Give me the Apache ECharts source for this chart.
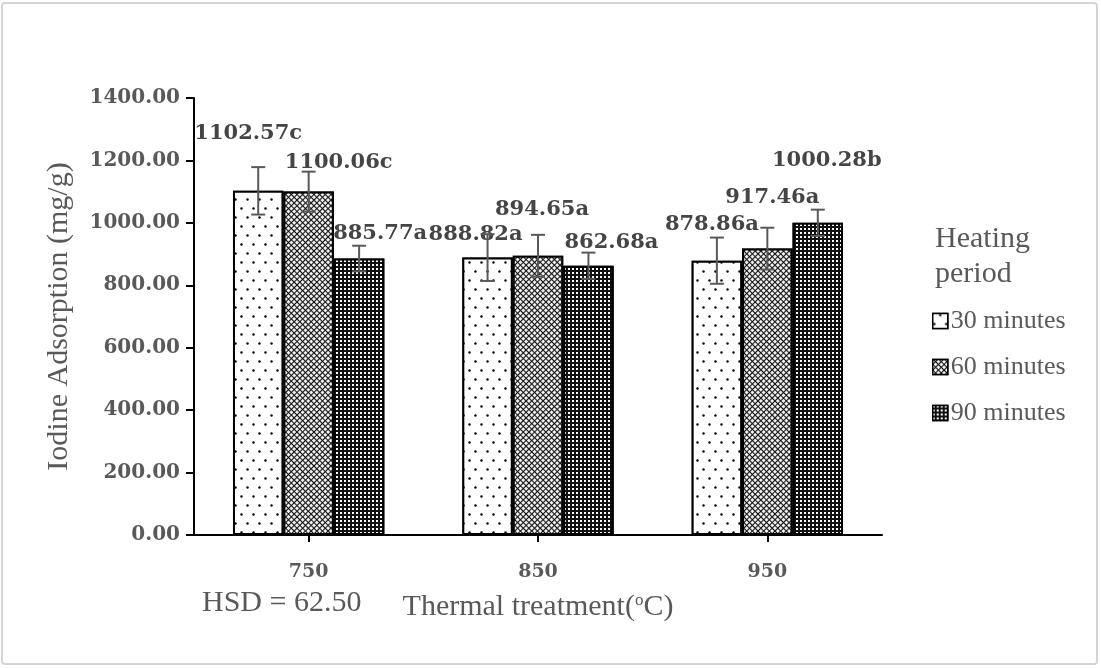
<!DOCTYPE html>
<html>
<head>
<meta charset="utf-8">
<script src="https://cdn.jsdelivr.net/npm/echarts@6/dist/echarts.min.js"></script>
<style>
html,body{margin:0;padding:0;background:#fff;}
#chart{width:1101px;height:668px;}
</style>
</head>
<body>
<div id="chart"></div>
<script>
// ---- data ----
var categories = ['750', '850', '950'];
var seriesNames = ['30 minutes', '60 minutes', '90 minutes'];
var min30 = [1102.57, 888.82, 878.86];
var min60 = [1100.06, 894.65, 917.46];
var min90 = [885.77, 862.68, 1000.28];
var err30 = [76, 75, 74];
var err60 = [64, 67, 67];
var err90 = [41, 42, 42];
var letters30 = ['c', 'a', 'a'];
var letters60 = ['c', 'a', 'a'];
var letters90 = ['a', 'a', 'b'];
var yTicks = [0, 200, 400, 600, 800, 1000, 1200, 1400];

// ---- styling (not data) ----
var labelOffsets = [
  [[-10, -42], [-12, -8], [-5, -21]],
  [[30, -14], [4, -31], [5, -36]],
  [[21, -9], [23, -8], [9, -47]]
];
var CAT_GAP = 0.34;
var textGray = '#595959';
var serif = '"Liberation Serif", "Times New Roman", serif';
var boldSerif = '"DejaVu Serif", serif';

var decals = [
  { symbol: 'circle', symbolSize: 0.8, color: '#000', backgroundColor: '#fff', dashArrayX: [[3, 9], [0, 6, 3, 3]], dashArrayY: [3, 6] },
  { symbol: 'rect', symbolSize: 0.95, color: '#fff', backgroundColor: '#111', dashArrayX: [3, 1], dashArrayY: [3, 1], rotation: Math.PI / 4 },
  { symbol: 'rect', symbolSize: 1, color: '#fff', backgroundColor: '#111', dashArrayX: [2, 2], dashArrayY: [2, 2] }
];
var fills = ['#ffffff', '#777777', '#111111'];

var values = [min30, min60, min90];
var errs = [err30, err60, err90];
var letters = [letters30, letters60, letters90];

var chart = echarts.init(document.getElementById('chart'), null, { renderer: 'canvas' });

var series = [];
values.forEach(function (vals, s) {
  series.push({
    name: seriesNames[s],
    type: 'bar',
    barGap: '0%',
    barCategoryGap: (CAT_GAP * 100) + '%',
    itemStyle: { color: fills[s], borderColor: '#000', borderWidth: 2, decal: decals[s] },
    label: {
      show: true, position: 'top', distance: 5,
      fontFamily: boldSerif, fontWeight: 'bold', fontSize: 21, color: '#454545',
      formatter: function (p) { return p.value.toFixed(2) + letters[s][p.dataIndex]; }
    },
    z: 2,
    data: vals.map(function (v, i) { return { value: v, label: { offset: labelOffsets[s][i] } }; })
  });
});
values.forEach(function (vals, s) {
  series.push({
    type: 'custom',
    z: 3,
    silent: true,
    renderItem: function (params, api) {
      var ci = api.value(0), v = api.value(1), e = api.value(2);
      var catW = api.size([1, 0])[0];
      var barW = catW * (1 - CAT_GAP) / 3;
      var c = api.coord([ci, v]);
      var x = c[0] + (s - 1) * barW;
      var yt = api.coord([ci, v + e])[1];
      var yb = api.coord([ci, v - e])[1];
      var cw = 7;
      var st = { stroke: '#595959', lineWidth: 2 };
      return {
        type: 'group',
        children: [
          { type: 'line', shape: { x1: x, y1: yt, x2: x, y2: yb }, style: st },
          { type: 'line', shape: { x1: x - cw, y1: yt, x2: x + cw, y2: yt }, style: st },
          { type: 'line', shape: { x1: x - cw, y1: yb, x2: x + cw, y2: yb }, style: st }
        ]
      };
    },
    data: vals.map(function (v, i) { return [i, v, errs[s][i]]; })
  });
});

chart.setOption({
  animation: false,
  aria: { enabled: false },
  grid: { left: 194, right: 219, top: 98, bottom: 133, containLabel: false },
  xAxis: {
    type: 'category',
    data: categories,
    name: 'Thermal treatment({sup|o}C)',
    nameLocation: 'middle',
    nameGap: 57,
    nameTextStyle: {
      fontFamily: serif, fontSize: 30, color: textGray,
      rich: { sup: { fontFamily: serif, fontSize: 17, color: textGray, verticalAlign: 'top', padding: [0, 0, 12, 0] } }
    },
    axisLine: { lineStyle: { color: '#000', width: 2 } },
    axisTick: { show: true, alignWithLabel: true, length: 7, lineStyle: { color: '#000', width: 2 } },
    axisLabel: { fontFamily: boldSerif, fontWeight: 'bold', fontSize: 19, color: textGray, margin: 28 }
  },
  yAxis: {
    type: 'value',
    min: 0, max: 1400, interval: 200,
    name: 'Iodine Adsorption (mg/g)',
    nameLocation: 'middle',
    nameGap: 120,
    nameTextStyle: { fontFamily: serif, fontSize: 30, color: textGray },
    splitLine: { show: false },
    axisLine: { show: true, lineStyle: { color: '#000', width: 2 } },
    axisTick: { show: true, length: 8, lineStyle: { color: '#000', width: 2 } },
    axisLabel: {
      fontFamily: boldSerif, fontWeight: 'bold', fontSize: 20, color: textGray, margin: 14,
      formatter: function (v) { return yTicks.indexOf(v) >= 0 ? v.toFixed(2) : ''; }
    }
  },
  legend: {
    orient: 'vertical',
    left: 927, top: 303,
    itemWidth: 15, itemHeight: 15, itemGap: 20,
    icon: 'rect',
    data: seriesNames,
    textStyle: { fontFamily: serif, fontSize: 26, color: textGray, padding: [0, 0, 0, -2] },
    itemStyle: { borderColor: '#000', borderWidth: 1.5 }
  },
  graphic: [
    { type: 'rect', shape: { x: 2, y: 3, width: 1095, height: 661, r: 3 }, style: { fill: 'none', stroke: '#d4d4d4', lineWidth: 2 }, silent: true },
    { type: 'text', left: 935, top: 222, style: { text: 'Heating\nperiod', fontFamily: serif, fontSize: 30, lineHeight: 35, fill: textGray } },
    { type: 'text', left: 202, top: 588, style: { text: 'HSD = 62.50', fontFamily: serif, fontSize: 30, fill: textGray } }
  ],
  series: series
});
</script>
</body>
</html>
